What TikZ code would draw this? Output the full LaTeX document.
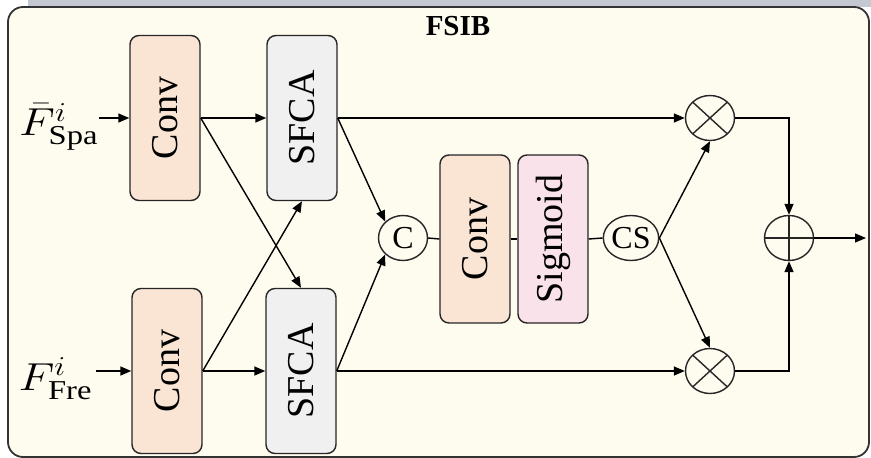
\documentclass[tikz,border=0pt]{standalone}
\usepackage{fix-cm}
\usepackage{fontspec}
\setmainfont{Liberation Serif}
\usetikzlibrary{shapes.geometric,arrows.meta,calc}
\definecolor{band}{HTML}{C4C9D1}
\definecolor{cream}{HTML}{FEFBEF}
\definecolor{peach}{HTML}{FAE5D4}
\definecolor{greybox}{HTML}{F0F0F0}
\definecolor{pinkbox}{HTML}{F9E2EA}
\begin{document}
\begin{tikzpicture}[x=1pt,y=-1pt,
  line width=1.4pt,
  blk/.style={draw=black!85, rounded corners=9pt, minimum width=70pt, minimum height=165pt, inner sep=0pt, font=\fontsize{38}{40}\selectfont},
  convbox/.style={blk, fill=peach},
  sfcabox/.style={blk, fill=greybox},
  sigbox/.style={blk, fill=pinkbox},
  opnode/.style={draw=black!85, ellipse, minimum width=49pt, minimum height=45pt, inner sep=0pt, fill=cream, font=\fontsize{32}{34}\selectfont},
  mulnode/.style={opnode, path picture={\draw[line width=1.4pt] (path picture bounding box.north west) -- (path picture bounding box.south east) (path picture bounding box.north east) -- (path picture bounding box.south west);}},
  plusnode/.style={opnode, path picture={\draw[line width=1.4pt] (path picture bounding box.north) -- (path picture bounding box.south) (path picture bounding box.west) -- (path picture bounding box.east);}},
  arr/.style={-{Triangle[length=11pt,width=9pt]}},
  lab/.style={inner sep=0pt, anchor=east}
]
\useasboundingbox (0,0) rectangle (871,458);
\fill[white] (0,0) rectangle (871,458);
\fill[band] (28,0) rectangle (871,7);
\draw[fill=cream, line width=1.8pt, draw=black!80] (8,7) [rounded corners=15pt] rectangle (869,457);
\node[font=\bfseries\fontsize{29}{30}\selectfont, inner sep=0pt] (title) at (458,26) {FSIB};

\node[convbox] (c1) at (165,118) {\rotatebox{90}{Conv}};
\node[convbox] (c2) at (167,371) {\rotatebox{90}{Conv}};
\node[sfcabox] (s1) at (302,118) {\rotatebox{90}{SFCA}};
\node[sfcabox] (s2) at (301,371) {\rotatebox{90}{SFCA}};
\node[convbox, minimum height=168pt] (mc) at (475,239) {\rotatebox{90}{Conv}};
\node[sigbox, minimum height=168pt] (sg) at (553,239) {\rotatebox{90}{Sigmoid}};

\node[opnode] (cc) at (403,238) {C};
\node[opnode] (cs) at (631,238) {CS};
\node[mulnode] (m1) at (710,118) {};
\node[mulnode] (m2) at (710,371) {};
\node[plusnode] (pl) at (789,238) {};
\coordinate (out) at (866,238);

\node[lab] (l1) at (99,127) {\scalebox{1.55}[1.3]{\fontsize{30}{32}\selectfont$\bar{F}^{i}_{\mathrm{Spa}}$}};
\node[lab] (l2) at (93,379) {\scalebox{1.55}[1.3]{\fontsize{30}{32}\selectfont$F^{i}_{\mathrm{Fre}}$}};

\draw[arr] (l1.east |- c1.west) -- (c1.west);
\draw[arr] (l2.east |- c2.west) ++(3,0) -- (c2.west);

\draw[arr] (c1.east) -- (s1.west);
\draw[arr] (c1.east) -- (s2.north);
\draw[arr] (c2.east) -- (s2.west);
\draw[arr] (c2.east) -- (s1.south);

\draw[arr] (s1.east) -- (m1.west);
\draw[arr] (s2.east) -- (m2.west);
\draw[arr] (s1.east) -- (cc.north west);
\draw[arr] (s2.east) -- (cc.south west);

\draw (cc.east) -- (mc.west);
\draw (mc.east) -- (sg.west);
\draw (sg.east) -- (cs.west);

\draw[arr] (cs.east) -- (m1.south);
\draw[arr] (cs.east) -- (m2.north);

\draw[arr] (m1.east) -| (pl.north);
\draw[arr] (m2.east) -| (pl.south);
\draw[arr] (pl.east) -- (out);
\end{tikzpicture}
\end{document}
